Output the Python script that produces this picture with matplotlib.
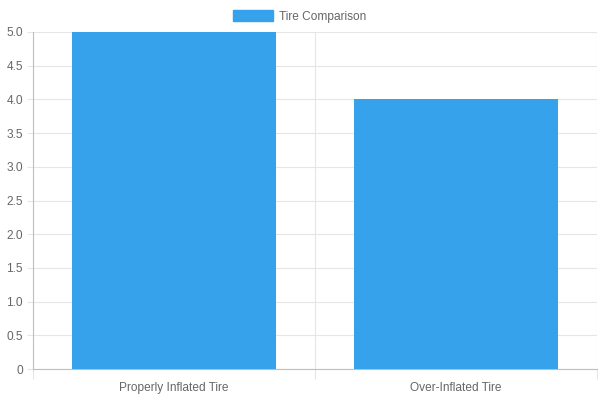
import matplotlib
matplotlib.use("Agg")
import matplotlib.pyplot as plt
from matplotlib.patches import Patch

categories = ["Properly Inflated Tire", "Over-Inflated Tire"]
values = [5.0, 4.0]
series_name = "Tire Comparison"
y_ticks = [0, 0.5, 1.0, 1.5, 2.0, 2.5, 3.0, 3.5, 4.0, 4.5, 5.0]
y_tick_labels = ["0", "0.5", "1.0", "1.5", "2.0", "2.5", "3.0", "3.5", "4.0", "4.5", "5.0"]

plt.rcParams['font.family'] = ['Liberation Sans', 'DejaVu Sans']
bar_color = "#36A2EB"
text_color = "#666666"
grid_color = "#e6e6e6"
axis_color = "#bfbfbf"
fs = 8.6

fig = plt.figure(figsize=(6, 4), dpi=100)
ax = fig.add_axes([33/600, 1 - 369/400, (597 - 33)/600, (369 - 32)/400])

x = list(range(len(categories)))
ax.bar(x, values, width=0.72, color=bar_color, zorder=3)

ax.set_xlim(-0.5, len(categories) - 0.5)
ax.set_ylim(0, 5.0)

ax.set_yticks(y_ticks)
ax.set_yticklabels(y_tick_labels)
ax.set_xticks(x)
ax.set_xticklabels(categories)
ax.set_xticks([i - 0.5 for i in range(len(categories) + 1)], minor=True)

ax.tick_params(axis='x', which='major', length=0, pad=9.5, labelsize=fs, labelcolor=text_color)
ax.tick_params(axis='x', which='minor', length=7.2, color=grid_color, width=0.8)
ax.tick_params(axis='y', which='major', length=4.3, color=grid_color, width=0.8, pad=3,
               labelsize=fs, labelcolor=text_color)

ax.grid(True, axis='y', which='major', color=grid_color, linewidth=0.8, zorder=0)
ax.grid(True, axis='x', which='minor', color=grid_color, linewidth=0.8, zorder=0)
ax.grid(False, axis='x', which='major')

for s in ['top', 'right']:
    ax.spines[s].set_visible(False)
ax.spines['left'].set_color(axis_color)
ax.spines['bottom'].set_color(axis_color)
ax.spines['left'].set_linewidth(0.8)
ax.spines['bottom'].set_linewidth(0.8)
ax.set_axisbelow(True)

handle = Patch(facecolor=bar_color, edgecolor=bar_color)
fig.legend([handle], [series_name], loc='center', bbox_to_anchor=(0.5, 1 - 16.5/400),
           frameon=False, fontsize=fs, labelcolor=text_color,
           handlelength=3.3, handleheight=0.95, handletextpad=0.55)

fig.savefig("out.png", dpi=100)
